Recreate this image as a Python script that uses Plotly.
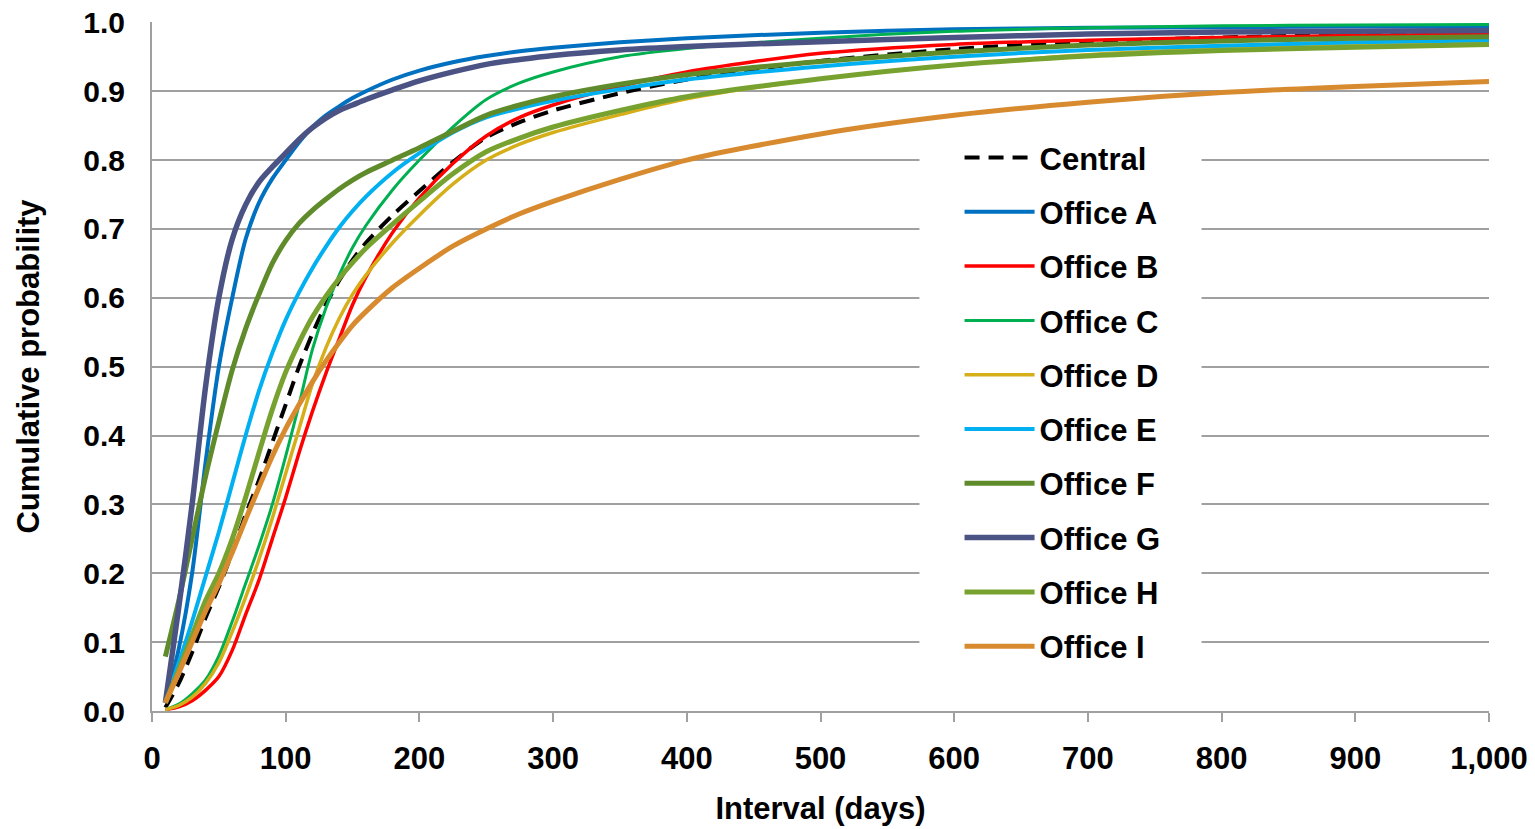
import plotly.graph_objects as go

# 間隔(日)
days = [10, 20, 30, 40, 50, 60, 70, 80, 90, 100, 110, 120, 130, 140, 150, 160, 180, 200,
        225, 250, 275, 300, 350, 400, 500, 600, 700, 800, 900, 1000]

central  = [0.005, 0.04, 0.085, 0.135, 0.18, 0.23, 0.285, 0.335, 0.39, 0.445, 0.50, 0.548, 0.59, 0.625, 0.655, 0.68, 0.72, 0.755,
            0.797, 0.833, 0.855, 0.872, 0.897, 0.917, 0.944, 0.961, 0.972, 0.978, 0.982, 0.984]
office_a = [0.012, 0.09, 0.20, 0.36, 0.50, 0.60, 0.685, 0.738, 0.773, 0.80, 0.826, 0.848, 0.865, 0.878, 0.89, 0.90, 0.917, 0.93,
            0.942, 0.951, 0.958, 0.963, 0.971, 0.977, 0.985, 0.990, 0.992, 0.993, 0.994, 0.994]
office_b = [0.002, 0.006, 0.015, 0.03, 0.05, 0.088, 0.14, 0.19, 0.25, 0.31, 0.375, 0.435, 0.49, 0.54, 0.59, 0.63, 0.695, 0.745,
            0.795, 0.835, 0.862, 0.88, 0.907, 0.928, 0.955, 0.968, 0.974, 0.978, 0.981, 0.983]
office_c = [0.002, 0.01, 0.025, 0.045, 0.08, 0.13, 0.185, 0.24, 0.30, 0.37, 0.445, 0.525, 0.585, 0.633, 0.673, 0.705, 0.757, 0.80,
            0.848, 0.888, 0.912, 0.928, 0.95, 0.962, 0.977, 0.987, 0.992, 0.995, 0.996, 0.997]
office_d = [0.002, 0.008, 0.02, 0.04, 0.07, 0.115, 0.165, 0.22, 0.28, 0.345, 0.41, 0.475, 0.527, 0.57, 0.605, 0.633, 0.68, 0.72,
            0.765, 0.80, 0.823, 0.84, 0.866, 0.889, 0.918, 0.938, 0.953, 0.962, 0.968, 0.973]
office_e = [0.012, 0.07, 0.13, 0.195, 0.26, 0.33, 0.40, 0.465, 0.52, 0.568, 0.608, 0.643, 0.674, 0.702, 0.726, 0.747, 0.782, 0.81,
            0.84, 0.862, 0.875, 0.886, 0.903, 0.917, 0.936, 0.95, 0.96, 0.966, 0.971, 0.974]
office_f = [0.079, 0.16, 0.25, 0.34, 0.42, 0.495, 0.555, 0.605, 0.65, 0.683, 0.708, 0.727, 0.743, 0.758, 0.771, 0.782, 0.80, 0.818,
            0.842, 0.865, 0.88, 0.892, 0.91, 0.924, 0.943, 0.957, 0.967, 0.973, 0.977, 0.979]
office_g = [0.012, 0.15, 0.30, 0.47, 0.60, 0.685, 0.735, 0.768, 0.79, 0.81, 0.83, 0.847, 0.861, 0.872, 0.88, 0.888, 0.902, 0.915,
            0.928, 0.939, 0.946, 0.952, 0.96, 0.965, 0.972, 0.978, 0.983, 0.986, 0.987, 0.988]
office_h = [0.012, 0.06, 0.11, 0.16, 0.20, 0.25, 0.31, 0.375, 0.438, 0.492, 0.535, 0.572, 0.602, 0.628, 0.651, 0.672, 0.707, 0.74,
            0.78, 0.812, 0.832, 0.848, 0.872, 0.892, 0.918, 0.938, 0.951, 0.959, 0.964, 0.968]
office_i = [0.012, 0.055, 0.10, 0.145, 0.185, 0.23, 0.278, 0.325, 0.37, 0.41, 0.445, 0.478, 0.508, 0.535, 0.56, 0.58, 0.615, 0.643,
            0.675, 0.70, 0.722, 0.74, 0.772, 0.80, 0.838, 0.865, 0.884, 0.898, 0.907, 0.914]

y_ticks = [0.0, 0.1, 0.2, 0.3, 0.4, 0.5, 0.6, 0.7, 0.8, 0.9, 1.0]

series = [
    ("Central",  central,  "black",   4.0, "15px,9px"),
    ("Office A", office_a, "#0070C0", 4.0, "solid"),
    ("Office B", office_b, "#FF0000", 3.5, "solid"),
    ("Office C", office_c, "#00B050", 3.0, "solid"),
    ("Office D", office_d, "#D5AE1A", 3.5, "solid"),
    ("Office E", office_e, "#00B0F0", 4.0, "solid"),
    ("Office F", office_f, "#5F8B2B", 5.0, "solid"),
    ("Office G", office_g, "#4B5385", 5.5, "solid"),
    ("Office H", office_h, "#78A22F", 5.0, "solid"),
    ("Office I", office_i, "#D88A2F", 5.0, "solid"),
]

FONT = "Arial, Liberation Sans, sans-serif"

fig = go.Figure()
for name, vals, color, width, dash in series:
    fig.add_trace(go.Scatter(
        x=days, y=vals, name=name, mode="lines",
        line=dict(color=color, width=width, dash=dash, shape="spline", smoothing=0.8),
        legendgroup=name,
    ))

# 凡例の背景（グリッド線を隠す）
fig.add_shape(type="rect", xref="x", yref="y", x0=574, x1=785, y0=0.062, y1=0.83,
              fillcolor="white", line_width=0, layer="between")

# ページ余白(8px)分を差し引いたサイズ
fig.update_layout(
    width=1527, height=821,
    margin=dict(l=144, r=46, t=14, b=118, autoexpand=False),
    plot_bgcolor="white", paper_bgcolor="white",
    font=dict(family=FONT, size=31, color="black", weight="bold"),
    showlegend=True,
    legend=dict(
        x=0.604, y=0.842, xanchor="left", yanchor="top",
        bgcolor="rgba(0,0,0,0)",
        font=dict(family=FONT, size=31, color="black", weight="bold"),
        tracegroupgap=11, itemwidth=70,
    ),
    xaxis=dict(
        range=[0, 1000], dtick=100, tickformat=",d", automargin=False,
        showgrid=False, showline=True, linecolor="#A0A0A0", linewidth=2,
        ticks="outside", ticklen=9, tickwidth=2, tickcolor="#A0A0A0",
        ticklabelstandoff=10, ticklabeloverflow="allow",
        tickfont=dict(family=FONT, size=31, weight="bold"),
        title=dict(text="Interval (days)", font=dict(family=FONT, size=31, weight="bold"), standoff=22),
        zeroline=False,
    ),
    yaxis=dict(
        range=[0, 1.0005], tickmode="array", tickvals=y_ticks, tickformat=".1f", automargin=False,
        showgrid=True, gridcolor="#A0A0A0", gridwidth=2,
        showline=True, linecolor="#A0A0A0", linewidth=2,
        ticks="", ticklabelstandoff=19, ticklabeloverflow="allow",
        tickfont=dict(family=FONT, size=30, weight="bold"),
        title=dict(text="Cumulative probability", font=dict(family=FONT, size=31, weight="bold"), standoff=34),
        zeroline=False,
    ),
)

fig.write_html("out.html")
